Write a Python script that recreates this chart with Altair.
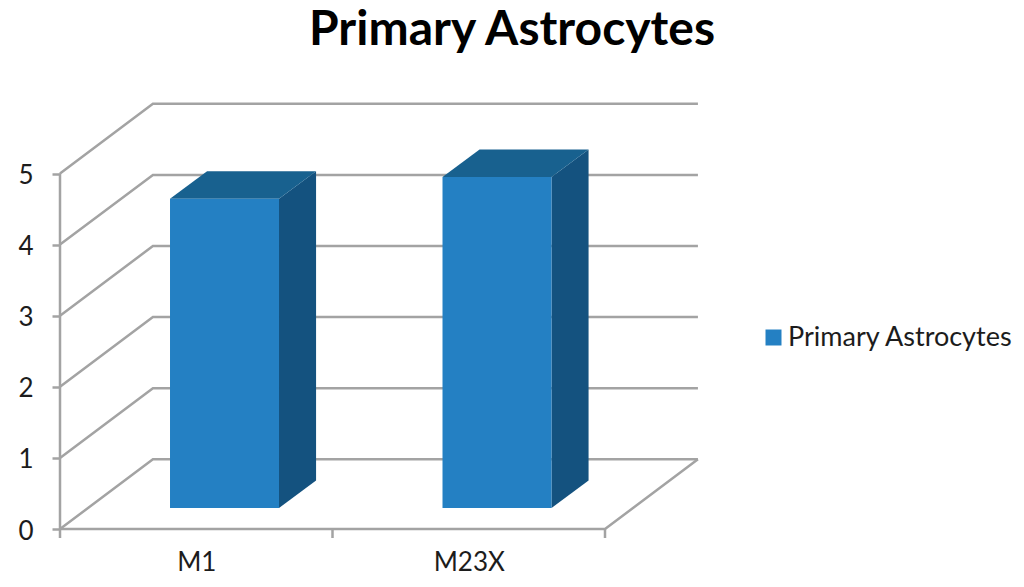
import altair as alt
import pandas as pd

TITLE = "Primary Astrocytes"
categories = ["M1", "M23X"]
values = [4.35, 4.655]
tick_values = [0, 1, 2, 3, 4, 5]
cat_edges = [0, 1, 2]

# Chart geometry expressed in data units
WALL_DX, WALL_DY = 0.341, 0.98      # oblique offset of the back wall
BAR_INSET_X, BAR_INSET_Y = 0.4037, 0.295
BAR_WIDTH = 0.4
BAR_DX, BAR_DY = 0.136, 0.387
X_MAX, Y_MAX = 638 / 272.5, 425 / 71.1

C_FRONT, C_TOP, C_SIDE, C_GRID, C_TEXT = "#2480c3", "#18618f", "#14527f", "#a3a3a3", "#1c1c1c"
FONT = "Lato"

x_scale = alt.Scale(domain=[0, X_MAX], nice=False, zero=False)
y_scale = alt.Scale(domain=[0, Y_MAX], nice=False, zero=False)

# Wall, floor and axis lines
rows = []
for v in tick_values:
    pts = [(0, v), (WALL_DX, v + WALL_DY), (2 + WALL_DX, v + WALL_DY)]
    for i, (a, b) in enumerate(pts):
        rows.append({"x": a, "y": b, "g": f"grid{v}", "o": i})
for g, pts in {
    "yaxis": [(0, 0), (0, 5)],
    "xaxis": [(0, 0), (2, 0), (2 + WALL_DX, WALL_DY)],
}.items():
    for i, (a, b) in enumerate(pts):
        rows.append({"x": a, "y": b, "g": g, "o": i})
lines_df = pd.DataFrame(rows)

x_axis = alt.Axis(
    values=[0.5, 1.5],
    labelExpr=f"datum.value < 1 ? '{categories[0]}' : '{categories[1]}'",
    ticks=False, domain=False, grid=False, title=None,
    labelFont=FONT, labelFontSize=26, labelColor=C_TEXT, labelPadding=20,
)
y_axis = alt.Axis(
    values=tick_values, format="d", domain=False, grid=False, title=None,
    tickSize=8, tickColor=C_GRID, tickWidth=2.5,
    labelFont=FONT, labelFontSize=26, labelColor=C_TEXT, labelPadding=19, labelOffset=2,
)

lines = alt.Chart(lines_df).mark_line(color=C_GRID, strokeWidth=2.5).encode(
    x=alt.X("x:Q", scale=x_scale, axis=x_axis),
    y=alt.Y("y:Q", scale=y_scale, axis=y_axis),
    detail="g:N",
    order="o:Q",
)

x_ticks = alt.Chart(pd.DataFrame({"x": cat_edges})).mark_rule(color=C_GRID, strokeWidth=2.5).encode(
    x=alt.X("x:Q", scale=x_scale),
    y=alt.value(425),
    y2=alt.value(434),
)

# Bars
front_df = pd.DataFrame({
    "series": [TITLE] * 2,
    "cat": categories,
    "x0": [i + BAR_INSET_X for i in range(2)],
    "x1": [i + BAR_INSET_X + BAR_WIDTH for i in range(2)],
    "y0": [BAR_INSET_Y] * 2,
    "y1": [BAR_INSET_Y + v for v in values],
})

front = alt.Chart(front_df).mark_rect().encode(
    x=alt.X("x0:Q", scale=x_scale),
    x2="x1:Q",
    y=alt.Y("y0:Q", scale=y_scale),
    y2="y1:Q",
    color=alt.Color(
        "series:N",
        scale=alt.Scale(range=[C_FRONT]),
        legend=alt.Legend(
            orient="none", legendX=700, legendY=220, title=None,
            symbolType="square", symbolSize=256, symbolStrokeWidth=0,
            labelFont=FONT, labelFontSize=27, labelColor=C_TEXT, labelOffset=1,
            labelLimit=320,
        ),
    ),
)

side_rows, top_rows = [], []
for r in front_df.itertuples():
    side_rows += [
        {"cat": r.cat, "x": r.x1, "lo": r.y0, "hi": r.y1},
        {"cat": r.cat, "x": r.x1 + BAR_DX, "lo": r.y0 + BAR_DY, "hi": r.y1 + BAR_DY},
    ]
    top_rows += [
        {"cat": r.cat, "y": r.y1, "l": r.x0, "rr": r.x1},
        {"cat": r.cat, "y": r.y1 + BAR_DY, "l": r.x0 + BAR_DX, "rr": r.x1 + BAR_DX},
    ]

side = alt.Chart(pd.DataFrame(side_rows)).mark_area(color=C_SIDE, orient="vertical").encode(
    x=alt.X("x:Q", scale=x_scale),
    y=alt.Y("lo:Q", scale=y_scale),
    y2="hi:Q",
    detail="cat:N",
)
top = alt.Chart(pd.DataFrame(top_rows)).mark_area(color=C_TOP, orient="horizontal").encode(
    y=alt.Y("y:Q", scale=y_scale),
    x=alt.X("l:Q", scale=x_scale),
    x2="rr:Q",
    detail="cat:N",
)

chart = (
    alt.layer(lines, x_ticks, side, top, front)
    .properties(
        width=638,
        height=425,
        padding={"left": 52, "top": 96, "right": 318, "bottom": 50},
        autosize=alt.AutoSizeParams(type="none"),
        background="white",
        title=alt.TitleParams(
            TITLE, font=FONT, fontSize=48, fontWeight="bold", color="#000000",
            anchor="middle", dx=133, offset=44, limit=600,
        ),
    )
    .configure_view(stroke=None)
)

chart.save("out.html", embed_options={"renderer": "svg", "actions": False})
